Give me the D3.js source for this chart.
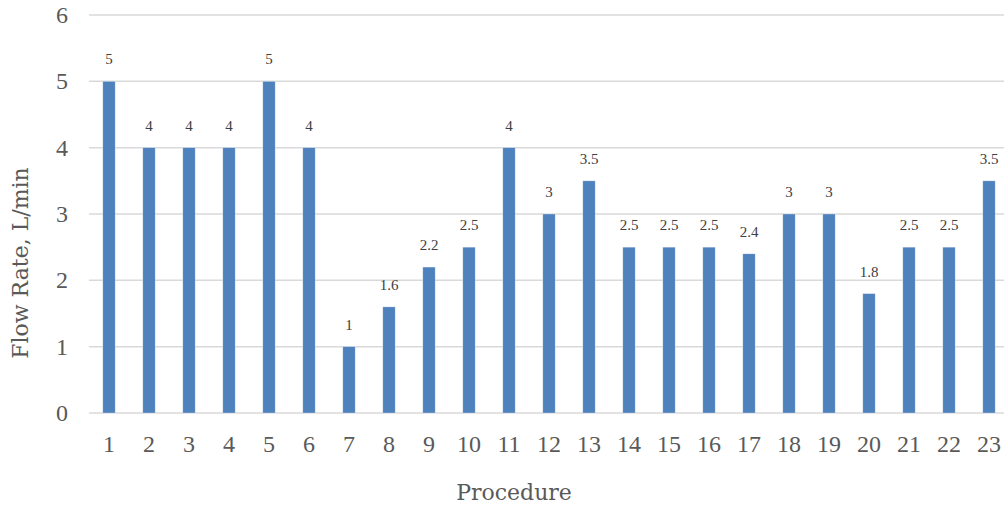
<!DOCTYPE html>
<html>
<head>
<meta charset="utf-8">
<script src="https://cdn.jsdelivr.net/npm/d3@7"></script>
<style>
  body { margin: 0; background: #fff; }
  text { font-family: "Liberation Serif", serif; }
  .title { font-family: "DejaVu Serif", serif; }
</style>
</head>
<body>
<div id="container"></div>
<script>
// chart data
const procedures = d3.range(1, 24).map(String);
const flowRates = [5, 4, 4, 4, 5, 4, 1, 1.6, 2.2, 2.5, 4, 3, 3.5, 2.5, 2.5, 2.5, 2.4, 3, 3, 1.8, 2.5, 2.5, 3.5];
const yTicks = [0, 1, 2, 3, 4, 5, 6];

const width = 1004;
const height = 505;

const svg = d3.create("svg")
    .attr("width", width)
    .attr("height", height);

const x = d3.scaleBand()
    .domain(procedures)
    .range([89, 1009])
    .paddingInner(0.69)
    .paddingOuter(0.345);

const y = d3.scaleLinear()
    .domain([0, 6])
    .range([413, 15]);

// gridlines
svg.append("g")
  .selectAll("line")
  .data(yTicks)
  .join("line")
    .attr("x1", 89)
    .attr("x2", 1009)
    .attr("y1", d => y(d))
    .attr("y2", d => y(d))
    .attr("stroke", "#d9d9d9")
    .attr("stroke-width", 1.5);

// y tick labels
svg.append("g")
  .selectAll("text")
  .data(yTicks)
  .join("text")
    .attr("x", 68)
    .attr("y", d => y(d) + 8)
    .attr("text-anchor", "end")
    .attr("font-size", 24)
    .attr("fill", "#595959")
    .text(d => d);

// bars
svg.append("g")
  .selectAll("rect")
  .data(flowRates)
  .join("rect")
    .attr("x", (d, i) => x(procedures[i]))
    .attr("y", d => y(d))
    .attr("width", x.bandwidth())
    .attr("height", d => y(0) - y(d))
    .attr("fill", "#4f81bd")
    .attr("stroke", "#ffffff")
    .attr("stroke-opacity", 0.5)
    .attr("stroke-width", 0.6);

// data labels
svg.append("g")
  .selectAll("text")
  .data(flowRates)
  .join("text")
    .attr("x", (d, i) => x(procedures[i]) + x.bandwidth() / 2)
    .attr("y", d => y(d) - 17)
    .attr("text-anchor", "middle")
    .attr("font-size", 15)
    .attr("fill", "#404040")
    .text(d => d);

// x tick labels
svg.append("g")
  .selectAll("text")
  .data(procedures)
  .join("text")
    .attr("x", d => x(d) + x.bandwidth() / 2)
    .attr("y", 452)
    .attr("text-anchor", "middle")
    .attr("font-size", 24)
    .attr("fill", "#595959")
    .text(d => d);

// axis titles
svg.append("text")
  .attr("class", "title")
  .attr("transform", "translate(28,263) rotate(-90)")
  .attr("text-anchor", "middle")
  .attr("font-size", 22)
  .attr("fill", "#595959")
  .text("Flow Rate, L/min");

svg.append("text")
  .attr("class", "title")
  .attr("x", 514)
  .attr("y", 500)
  .attr("text-anchor", "middle")
  .attr("font-size", 22)
  .attr("fill", "#595959")
  .text("Procedure");

container.append(svg.node());
</script>
</body>
</html>
